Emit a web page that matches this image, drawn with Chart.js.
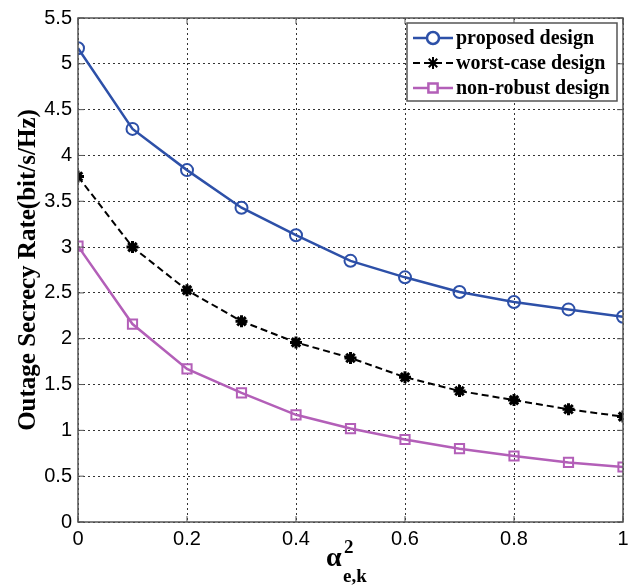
<!DOCTYPE html>
<html>
<head>
<meta charset="utf-8">
<script src="https://cdn.jsdelivr.net/npm/chart.js@4.4.0/dist/chart.umd.min.js"></script>
<style>
  html, body { margin: 0; padding: 0; background: #fff; }
  #wrap { width: 640px; height: 587px; }
</style>
</head>
<body>
<div id="wrap"><canvas id="myChart" width="640" height="587"></canvas></div>
<script>
// values
var alphaValues = [0, 0.1, 0.2, 0.3, 0.4, 0.5, 0.6, 0.7, 0.8, 0.9, 1];
var proposed   = [5.17, 4.29, 3.84, 3.43, 3.13, 2.85, 2.67, 2.51, 2.40, 2.32, 2.24];
var worstCase  = [3.77, 3.00, 2.53, 2.19, 1.96, 1.79, 1.58, 1.43, 1.33, 1.23, 1.15];
var nonRobust  = [3.01, 2.16, 1.67, 1.41, 1.17, 1.02, 0.90, 0.80, 0.72, 0.65, 0.60];
var seriesNames = ['proposed design', 'worst-case design', 'non-robust design'];
var xTicks = [0, 0.2, 0.4, 0.6, 0.8, 1];
var yTicks = [0, 0.5, 1, 1.5, 2, 2.5, 3, 3.5, 4, 4.5, 5, 5.5];

function toPoints(ys){
    return ys.map(function(y, i){ return { x: alphaValues[i], y: y }; });
}

var BLUE = '#2d50a8', MAG = '#b35fb8';
var SERIF = '"Liberation Serif", "Times New Roman", serif';

// frame, inward ticks, legend and subscripted x title
var matlabStyle = {
    id: 'matlabStyle',
    afterDraw: function(chart){
        var ctx = chart.ctx, a = chart.chartArea;
        var xs = chart.scales.x, ys = chart.scales.y;
        ctx.save();
        ctx.strokeStyle = '#555';
        ctx.lineWidth = 1.5;
        ctx.strokeRect(a.left, a.top, a.right - a.left, a.bottom - a.top);
        ctx.lineWidth = 1;
        xTicks.forEach(function(v){
            var px = xs.getPixelForValue(v);
            ctx.beginPath();
            ctx.moveTo(px, a.bottom); ctx.lineTo(px, a.bottom - 6);
            ctx.moveTo(px, a.top); ctx.lineTo(px, a.top + 6);
            ctx.stroke();
        });
        yTicks.forEach(function(v){
            var py = ys.getPixelForValue(v);
            ctx.beginPath();
            ctx.moveTo(a.left, py); ctx.lineTo(a.left + 6, py);
            ctx.moveTo(a.right, py); ctx.lineTo(a.right - 6, py);
            ctx.stroke();
        });

        // legend
        var bx = 407, by = 23, bw = 210, bh = 78;
        ctx.fillStyle = '#fff';
        ctx.fillRect(bx, by, bw, bh);
        ctx.strokeStyle = '#555';
        ctx.lineWidth = 1.5;
        ctx.strokeRect(bx, by, bw, bh);
        ctx.font = 'bold 20px ' + SERIF;
        ctx.textBaseline = 'middle';
        chart.data.datasets.forEach(function(ds, i){
            var ly = by + 15 + i * 25;
            ctx.save();
            ctx.strokeStyle = ds.borderColor;
            ctx.lineWidth = ds.borderWidth;
            ctx.setLineDash(ds.borderDash || []);
            ctx.beginPath();
            ctx.moveTo(bx + 6, ly); ctx.lineTo(bx + 46, ly);
            ctx.stroke();
            ctx.setLineDash([]);
            ctx.fillStyle = ds.pointStyle === 'star' ? '#000' : '#fff';
            Chart.helpers.drawPoint(ctx, {
                pointStyle: ds.pointStyle, radius: ds.pointRadius,
                borderWidth: ds.pointBorderWidth, rotation: 0
            }, bx + 26, ly);
            ctx.restore();
            ctx.fillStyle = '#000';
            ctx.fillText(ds.label, bx + 49, ly + 1);
        });

        // x axis title: alpha^2_{e,k}
        ctx.fillStyle = '#000';
        ctx.textBaseline = 'alphabetic';
        ctx.font = 'bold 28px ' + SERIF;
        ctx.fillText('\u03b1', 326, 566);
        ctx.font = 'bold 19px ' + SERIF;
        ctx.fillText('2', 344, 553);
        ctx.fillText('e,k', 343, 582);
        ctx.restore();
    }
};

var ctx = document.getElementById('myChart');
var myChart = new Chart(ctx, {
    type: 'line',
    data: {
        datasets: [{
            label: seriesNames[0],
            data: toPoints(proposed),
            borderColor: BLUE, backgroundColor: 'rgba(0,0,0,0)',
            borderWidth: 2.5, pointStyle: 'circle', pointRadius: 6,
            pointBorderWidth: 2, pointBackgroundColor: 'rgba(0,0,0,0)',
            pointBorderColor: BLUE
        }, {
            label: seriesNames[1],
            data: toPoints(worstCase),
            borderColor: '#000', backgroundColor: '#000',
            borderWidth: 2, borderDash: [7, 4], pointStyle: 'star', pointRadius: 6,
            pointBorderWidth: 3, pointBorderColor: '#000'
        }, {
            label: seriesNames[2],
            data: toPoints(nonRobust),
            borderColor: MAG, backgroundColor: 'rgba(0,0,0,0)',
            borderWidth: 2.5, pointStyle: 'rect', pointRadius: 6.5,
            pointBorderWidth: 2, pointBackgroundColor: 'rgba(0,0,0,0)',
            pointBorderColor: MAG
        }]
    },
    options: {
        responsive: false,
        animation: false,
        layout: { padding: { top: 17, right: 17, left: 0, bottom: 0 } },
        plugins: { legend: { display: false }, tooltip: { enabled: false } },
        scales: {
            x: {
                type: 'linear', min: 0, max: 1,
                afterFit: function(s){ s.height = 65; },
                afterBuildTicks: function(s){ s.ticks = xTicks.map(function(v){ return { value: v }; }); },
                grid: { color: '#333', lineWidth: 1, drawTicks: false },
                border: { display: false, dash: [2, 3] },
                ticks: {
                    color: '#000', padding: 5,
                    font: { family: '"Liberation Sans", Arial, sans-serif', size: 20 },
                    callback: function(v){ return String(v); }
                }
            },
            y: {
                min: 0, max: 5.5,
                afterFit: function(s){ s.width = 78; },
                afterBuildTicks: function(s){ s.ticks = yTicks.map(function(v){ return { value: v }; }); },
                grid: { color: '#333', lineWidth: 1, drawTicks: false },
                border: { display: false, dash: [2, 3] },
                ticks: {
                    color: '#000', padding: 6,
                    font: { family: '"Liberation Sans", Arial, sans-serif', size: 20 },
                    callback: function(v){ return String(v); }
                },
                title: {
                    display: true, text: 'Outage Secrecy Rate(bit/s/Hz)', color: '#000',
                    padding: { top: 14, bottom: 0 },
                    font: { family: SERIF, size: 25, weight: 'bold' }
                }
            }
        }
    },
    plugins: [matlabStyle]
});
</script>
</body>
</html>
